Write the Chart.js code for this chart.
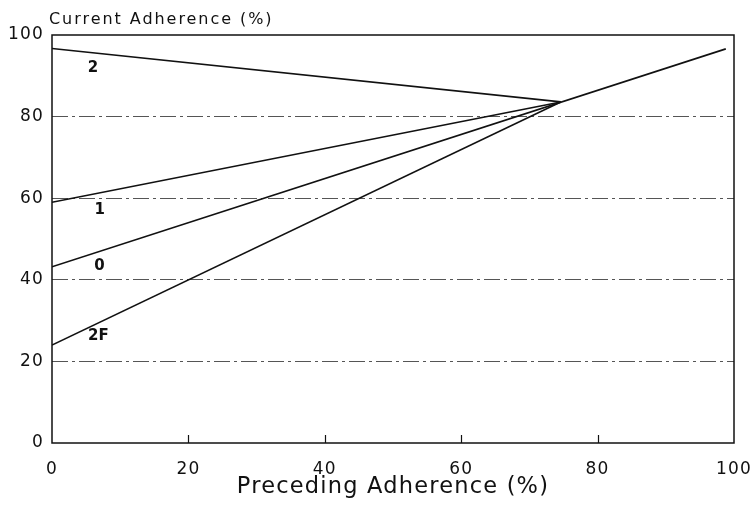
<!DOCTYPE html>
<html><head><meta charset="utf-8">
<script src="https://cdn.jsdelivr.net/npm/chart.js@4/dist/chart.umd.min.js"></script>
<style>html,body{margin:0;padding:0;background:#fff}canvas{display:block}</style>
</head><body>
<canvas id="c" width="755" height="508"></canvas>
<script>
// ---- data ----
const seriesNames = ['2', '1', '0', '2F'];
const line2X = [0, 74.6];   const line2Y = [96.7, 83.6];
const line1X = [0, 74.6];   const line1Y = [59.0, 83.6];
const line0X = [0, 98.8];   const line0Y = [43.2, 96.6];
const line2FX = [0, 74.6];  const line2FY = [24.0, 83.6];
const xTickValues = [0, 20, 40, 60, 80, 100];
const yTickValues = [0, 20, 40, 60, 80, 100];
const xTitle = 'Preceding Adherence (%)';
const yTitle = 'Current Adherence (%)';
// label anchors (data coordinates) for line names
const labelAnchorX = [6.0, 7.0, 6.95, 6.8];
const labelAnchorY = [92, 57, 43.4, 26.2];

const allX = [line2X, line1X, line0X, line2FX];
const allY = [line2Y, line1Y, line0Y, line2FY];

const FONT = "'DejaVu Sans', 'Liberation Sans', Arial, sans-serif";

const datasets = seriesNames.map((n, i) => ({
  label: n,
  data: allX[i].map((x, j) => ({x: x, y: allY[i][j]})),
  showLine: true,
  borderColor: '#111',
  borderWidth: 1.6,
  pointRadius: 0,
  fill: false,
  tension: 0
}));

const spacing = {
  id: 'spacing',
  beforeDraw(chart) { chart.ctx.letterSpacing = '1.2px'; }
};

const decor = {
  id: 'decor',
  afterDraw(chart) {
    const c = chart.ctx, a = chart.chartArea;
    const xs = chart.scales.x, ys = chart.scales.y;
    c.save();
    // frame
    c.strokeStyle = '#111';
    c.lineWidth = 1.5;
    c.strokeRect(a.left, a.top, a.right - a.left, a.bottom - a.top);
    // inward ticks on x axis
    c.lineWidth = 1.2;
    xTickValues.forEach(v => {
      if (v === 0 || v === 100) return;
      const px = Math.round(xs.getPixelForValue(v)) + 0.5;
      c.beginPath(); c.moveTo(px, a.bottom); c.lineTo(px, a.bottom - 8); c.stroke();
    });
    // line labels
    c.fillStyle = '#111';
    c.letterSpacing = '0px';
    c.font = 'bold 15px ' + FONT;
    c.textAlign = 'center';
    c.textBaseline = 'middle';
    seriesNames.forEach((n, i) => {
      c.fillText(n, xs.getPixelForValue(labelAnchorX[i]), ys.getPixelForValue(labelAnchorY[i]));
    });
    // y-axis title at top
    c.letterSpacing = '1.95px';
    c.font = '16px ' + FONT;
    c.textAlign = 'left';
    c.fillText(yTitle, 49, 20);
    c.restore();
  }
};

new Chart(document.getElementById('c'), {
  type: 'scatter',
  data: { datasets },
  options: {
    responsive: false,
    animation: false,
    devicePixelRatio: 1,
    layout: { padding: { top: 35, right: 21, left: 0, bottom: 0 } },
    plugins: { legend: { display: false }, tooltip: { enabled: false }, title: { display: false } },
    scales: {
      x: {
        type: 'linear', min: 0, max: 100,
        afterFit(s) { s.height = 65; s.paddingLeft = 0; s.paddingRight = 0; },
        afterBuildTicks(s) { s.ticks = xTickValues.map(v => ({ value: v })); },
        grid: { display: false },
        border: { display: false },
        ticks: { padding: 8, color: '#111', font: { family: FONT, size: 17 }, maxRotation: 0, autoSkip: false },
        title: { display: true, text: xTitle, color: '#111', font: { family: FONT, size: 22.5 }, padding: { top: 0, bottom: 7 } }
      },
      y: {
        type: 'linear', min: 0, max: 100,
        afterFit(s) { s.width = 52; s.paddingTop = 0; s.paddingBottom = 0; },
        afterBuildTicks(s) { s.ticks = yTickValues.map(v => ({ value: v })); },
        grid: {
          drawTicks: false,
          lineWidth: 1,
          color: (ctx) => (ctx.tick && (ctx.tick.value === 0 || ctx.tick.value === 100)) ? 'rgba(0,0,0,0)' : '#555'
        },
        border: { display: false, dash: [16, 4, 3, 4] },
        ticks: { padding: 8, color: '#111', font: { family: FONT, size: 17 }, autoSkip: false }
      }
    }
  },
  plugins: [spacing, decor]
});
</script>
</body></html>
